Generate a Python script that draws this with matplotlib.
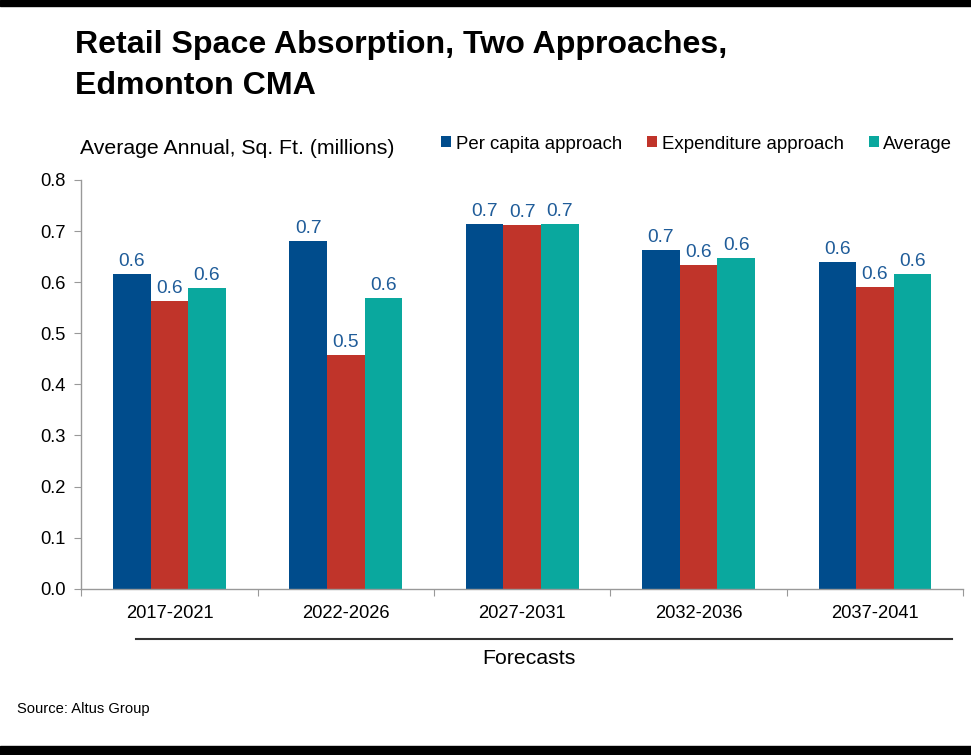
import matplotlib.pyplot as plt
import numpy as np
from matplotlib.lines import Line2D
from matplotlib.patches import Rectangle

plt.rcParams['font.family'] = ['Liberation Sans', 'DejaVu Sans']

periods = ['2017-2021', '2022-2026', '2027-2031', '2032-2036', '2037-2041']
per_capita = [0.615, 0.680, 0.714, 0.663, 0.639]
expenditure = [0.563, 0.457, 0.712, 0.633, 0.590]
average = [0.589, 0.569, 0.713, 0.648, 0.615]

series = [('Per capita approach', per_capita, '#004C8C'),
          ('Expenditure approach', expenditure, '#C0342A'),
          ('Average', average, '#0AA89E')]

fig = plt.figure(figsize=(9.71, 7.55), dpi=100)
ax = fig.add_axes([0.0837, 0.2203, 0.9081, 0.5413])

x = np.arange(len(periods))
w = 0.213
handles = []
for i, (name, vals, col) in enumerate(series):
    bars = ax.bar(x + (i - 1) * w, vals, width=w, color=col, label=name, zorder=2)
    handles.append(bars)
    for xi, v in zip(x + (i - 1) * w, vals):
        ax.text(xi, v + 0.008, f'{v:.1f}', ha='center', va='bottom',
                fontsize=13.8, color='#1F5C99')

ax.set_xlim(-0.5, len(periods) - 0.5)
ax.set_ylim(0, 0.8)
ax.set_yticks(np.arange(0, 0.81, 0.1))
ax.set_yticklabels([f'{t:.1f}' for t in np.arange(0, 0.81, 0.1)])
ax.set_xticks(np.arange(-0.5, len(periods), 1))
ax.set_xticklabels([])
ax.set_xticks(x, minor=True)
ax.set_xticklabels(periods, minor=True)
ax.tick_params(axis='x', which='minor', length=0, labelsize=13.2, pad=12)
ax.tick_params(axis='x', which='major', length=5, color='#999999')
ax.tick_params(axis='y', length=5, color='#999999', labelsize=13.2, pad=6)

for s in ['top', 'right']:
    ax.spines[s].set_visible(False)
for s in ['left', 'bottom']:
    ax.spines[s].set_color('#999999')
    ax.spines[s].set_linewidth(1)

leg = ax.legend(handles=handles, loc='center right', bbox_to_anchor=(0.988, 1.088),
                ncol=3, frameon=False, fontsize=13.4, handlelength=0.54,
                handleheight=0.54, handletextpad=0.25, columnspacing=1.34,
                borderaxespad=0, borderpad=0)

# title block
fig.text(0.077, 0.930, 'Retail Space Absorption, Two Approaches,',
         fontsize=23.1, fontweight='bold', ha='left', va='baseline')
fig.text(0.077, 0.875, 'Edmonton CMA',
         fontsize=23.1, fontweight='bold', ha='left', va='baseline')
fig.text(0.082, 0.7956, 'Average Annual, Sq. Ft. (millions)', fontsize=15.3,
         ha='left', va='baseline')

# forecasts bracket line
fig.add_artist(Line2D([0.140, 0.980], [0.154, 0.154], color='#333333', lw=1.5))
fig.text(0.545, 0.128, 'Forecasts', fontsize=15.3, ha='center', va='center')
fig.text(0.018, 0.061, 'Source: Altus Group', fontsize=10.6, ha='left', va='center')

# black bands top and bottom
fig.add_artist(Rectangle((0, 0.992), 1, 0.008, color='black', transform=fig.transFigure))
fig.add_artist(Rectangle((0, 0), 1, 0.012, color='black', transform=fig.transFigure))

fig.savefig('out.png', dpi=100)
